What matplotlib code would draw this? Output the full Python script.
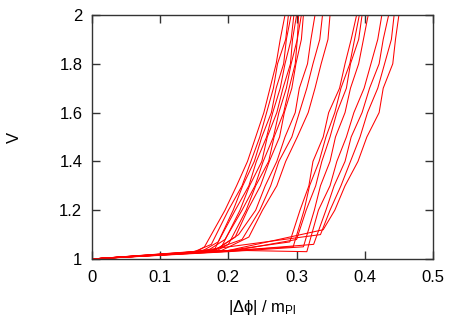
import matplotlib
matplotlib.use("Agg")
import matplotlib.pyplot as plt

plt.rcParams['font.family'] = ['Liberation Sans', 'DejaVu Sans']
plt.rcParams['mathtext.fontset'] = 'custom'
plt.rcParams['mathtext.rm'] = 'Liberation Sans'
plt.rcParams['mathtext.it'] = 'Liberation Sans'

# Each curve: start (0, 1), a slow pre-break point, a break point,
# then |dphi|/m_Pl values read at the common V levels below.
v_levels = [1.2, 1.3, 1.4, 1.5, 1.6, 1.7, 1.8, 1.9, 2.0]

pre_x = [0.15, 0.15, 0.16, 0.16, 0.17, 0.17, 0.18, 0.18,
         0.18, 0.17, 0.19,
         0.20, 0.12, 0.21, 0.20, 0.22, 0.19, 0.12, 0.20]
pre_v = [1.025, 1.03, 1.03, 1.03, 1.03, 1.035, 1.03, 1.035,
         1.035, 1.03, 1.035,
         1.035, 1.02, 1.035, 1.03, 1.035, 1.03, 1.02, 1.035]
break_x = [0.165, 0.175, 0.18, 0.185, 0.19, 0.195, 0.20, 0.21,
           0.215, 0.22, 0.23,
           0.29, 0.295, 0.30, 0.31, 0.315, 0.325, 0.335, 0.339]
break_v = [1.05, 1.06, 1.04, 1.07, 1.05, 1.08, 1.06, 1.09,
           1.10, 1.08, 1.09,
           1.07, 1.05, 1.08, 1.05, 1.03, 1.06, 1.10, 1.12]
rise_x = [
    [0.195, 0.212, 0.228, 0.240, 0.252, 0.261, 0.270, 0.276, 0.283],
    [0.200, 0.220, 0.233, 0.246, 0.256, 0.266, 0.272, 0.284, 0.288],
    [0.207, 0.221, 0.238, 0.249, 0.263, 0.270, 0.281, 0.285, 0.292],
    [0.210, 0.230, 0.241, 0.256, 0.265, 0.276, 0.283, 0.292, 0.296],
    [0.217, 0.231, 0.249, 0.257, 0.271, 0.280, 0.291, 0.294, 0.300],
    [0.220, 0.239, 0.251, 0.266, 0.274, 0.285, 0.292, 0.301, 0.303],
    [0.226, 0.240, 0.259, 0.267, 0.281, 0.289, 0.298, 0.301, 0.307],
    [0.228, 0.247, 0.260, 0.275, 0.282, 0.293, 0.299, 0.307, 0.310],
    [0.240, 0.254, 0.271, 0.283, 0.298, 0.304, 0.316, 0.321, 0.327],
    [0.246, 0.262, 0.274, 0.293, 0.304, 0.315, 0.324, 0.334, 0.338],
    [0.250, 0.271, 0.284, 0.301, 0.317, 0.327, 0.336, 0.346, 0.349],
    [0.305, 0.318, 0.324, 0.339, 0.347, 0.363, 0.371, 0.380, 0.388],
    [0.311, 0.319, 0.333, 0.343, 0.356, 0.365, 0.378, 0.385, 0.392],
    [0.314, 0.328, 0.337, 0.349, 0.359, 0.373, 0.379, 0.391, 0.396],
    [0.326, 0.335, 0.349, 0.357, 0.371, 0.379, 0.391, 0.398, 0.405],
    [0.332, 0.349, 0.359, 0.373, 0.384, 0.399, 0.409, 0.419, 0.425],
    [0.343, 0.355, 0.371, 0.380, 0.396, 0.407, 0.421, 0.427, 0.435],
    [0.349, 0.365, 0.379, 0.393, 0.404, 0.419, 0.429, 0.439, 0.443],
    [0.356, 0.371, 0.390, 0.403, 0.421, 0.427, 0.441, 0.445, 0.450],
]

x_ticks = [0, 0.1, 0.2, 0.3, 0.4, 0.5]
x_labels = ['0', '0.1', '0.2', '0.3', '0.4', '0.5']
y_ticks = [1, 1.2, 1.4, 1.6, 1.8, 2]
y_labels = ['1', '1.2', '1.4', '1.6', '1.8', '2']

fig = plt.figure(figsize=(4.63, 3.27), dpi=100)
ax = fig.add_axes([92/463, 1 - 259/327, (433-92)/463, (259-15)/327])

for px_, pv_, bx_, bv_, rx_ in zip(pre_x, pre_v, break_x, break_v, rise_x):
    xs = [0, px_, bx_] + rx_
    vs = [1, pv_, bv_] + v_levels
    ax.plot(xs, vs, color='#ff0000', lw=0.75)

ax.set_xlim(0, 0.5)
ax.set_ylim(1, 2)
ax.set_xticks(x_ticks)
ax.set_xticklabels(x_labels)
ax.set_yticks(y_ticks)
ax.set_yticklabels(y_labels)
ax.tick_params(direction='in', length=6, width=1, top=True, right=True,
               labelsize=12, color='#333333')
ax.tick_params(axis='x', pad=8)
ax.tick_params(axis='y', pad=7)
for s in ax.spines.values():
    s.set_color('#333333')
    s.set_linewidth(1)

ax.set_xlabel('|Δϕ| / m$_{\\mathrm{Pl}}$', fontsize=12, labelpad=9)
ax.set_ylabel('V', fontsize=12, labelpad=27)

fig.savefig('out.png', dpi=100)
